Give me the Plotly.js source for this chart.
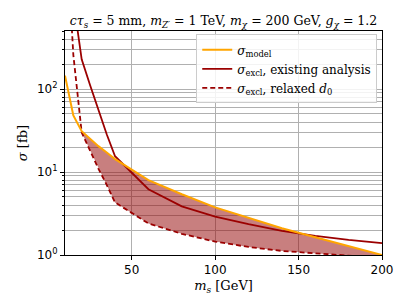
<!DOCTYPE html>
<html>
<head>
<meta charset="utf-8">
<script src="https://cdn.plot.ly/plotly-3.0.1.min.js"></script>
<style>html,body{margin:0;padding:0;background:#fff;}#chart{width:411px;height:308px;}</style>
</head>
<body>
<div id="chart"></div>
<script>
// Data (m_s in GeV, sigma in fb)
const massPoints = [10, 15, 20, 25, 30, 35, 40, 60, 80, 100, 120, 140, 160, 180, 200];
const sigmaModel = [145, 48, 31, 25, 20.5, 17.2, 14.3, 8.0, 5.4, 3.75, 2.8, 2.1, 1.64, 1.28, 1.0];
const sigmaExisting = [6000, 1200, 228, 112, 56, 28.5, 15.5, 6.2, 3.85, 2.9, 2.35, 1.95, 1.7, 1.52, 1.39];
const sigmaRelaxed = [15000, 257, 30, 18, 11, 7.0, 4.3, 2.4, 1.8, 1.45, 1.25, 1.12, 1.05, 0.98, 0.92];
const xTickVals = [50, 100, 150, 200];
const yTickVals = [1, 10, 100];
const yTickText = ['10<sup>0</sup>', '10<sup>1</sup>', '10<sup>2</sup>'];
const yMinorVals = [2,3,4,5,6,7,8,9,20,30,40,50,60,70,80,90,200,300,400,500];

// Shaded region: where model exceeds relaxed limit (m_s >= 20)
const fx = [], fy = [];
massPoints.forEach((m, i) => { if (m >= 20) { fx.push(m); fy.push(sigmaModel[i]); } });
for (let i = massPoints.length - 1; i >= 0; i--) {
  if (massPoints[i] >= 20) { fx.push(massPoints[i]); fy.push(sigmaRelaxed[i]); }
}

const serif = 'DejaVu Serif, serif';
const sans = 'DejaVu Sans, sans-serif';

const traces = [
  {x: fx, y: fy, mode: 'lines', fill: 'toself', fillcolor: 'rgba(150,10,10,0.52)',
   line: {width: 0}, showlegend: false, hoverinfo: 'skip'},
  {x: massPoints, y: sigmaExisting, mode: 'lines', name: '<i>σ</i><sub>excl</sub>, existing analysis',
   line: {color: '#9b0000', width: 1.8}, legendrank: 2},
  {x: massPoints, y: sigmaRelaxed, mode: 'lines', name: '<i>σ</i><sub>excl</sub>, relaxed <i>d</i><sub>0</sub>',
   line: {color: '#9b0000', width: 1.8, dash: '5px,3px'}, legendrank: 3},
  {x: massPoints, y: sigmaModel, mode: 'lines', name: '<i>σ</i><sub>model</sub>',
   line: {color: '#ffa500', width: 2}, legendrank: 1}
];

const layout = {
  width: 411, height: 308,
  margin: {l: 65, r: 29, t: 31, b: 53},
  paper_bgcolor: '#ffffff', plot_bgcolor: '#ffffff',
  font: {family: sans, size: 12, color: '#000'},
  title: {text: '<i>cτ<sub>s</sub></i> = 5 mm, <i>m<sub>Z′</sub></i> = 1 TeV, <i>m<sub>χ</sub></i> = 200 GeV, <i>g<sub>χ</sub></i> = 1.2',
          font: {family: serif, size: 12.5, color: '#000'},
          x: 0.5, xref: 'paper', xanchor: 'center', y: 1 - 21/308, yref: 'container', yanchor: 'middle'},
  xaxis: {range: [10, 200], tickvals: xTickVals, ticks: 'outside', ticklen: 4, tickcolor: '#000',
          showline: true, mirror: true, linecolor: '#000', linewidth: 1,
          showgrid: true, gridcolor: '#b0b0b0', gridwidth: 1, zeroline: false,
          tickfont: {family: sans, size: 12},
          title: {text: '<i>m<sub>s</sub></i> [GeV]', font: {family: serif, size: 13}, standoff: 4}},
  yaxis: {type: 'log', range: [0, Math.log10(500)], tickvals: yTickVals, ticktext: yTickText,
          ticks: 'outside', ticklen: 4, tickcolor: '#000',
          showline: true, mirror: true, linecolor: '#000', linewidth: 1,
          showgrid: true, gridcolor: '#b0b0b0', gridwidth: 1, zeroline: false,
          tickfont: {family: sans, size: 12},
          minor: {tickmode: 'array', tickvals: yMinorVals, ticks: 'outside', ticklen: 2, tickcolor: '#000',
                  showgrid: true, gridcolor: '#b0b0b0', gridwidth: 1},
          title: {text: '<i>σ</i> [fb]', font: {family: serif, size: 13}, standoff: 6}},
  legend: {x: 0.985, xanchor: 'right', y: 0.985, yanchor: 'top',
           bgcolor: 'rgba(255,255,255,0.85)', bordercolor: '#cccccc', borderwidth: 1,
           font: {family: serif, size: 12}, traceorder: 'normal', itemwidth: 30}
};

Plotly.newPlot('chart', traces, layout, {staticPlot: true, displayModeBar: false});
</script>
</body>
</html>
